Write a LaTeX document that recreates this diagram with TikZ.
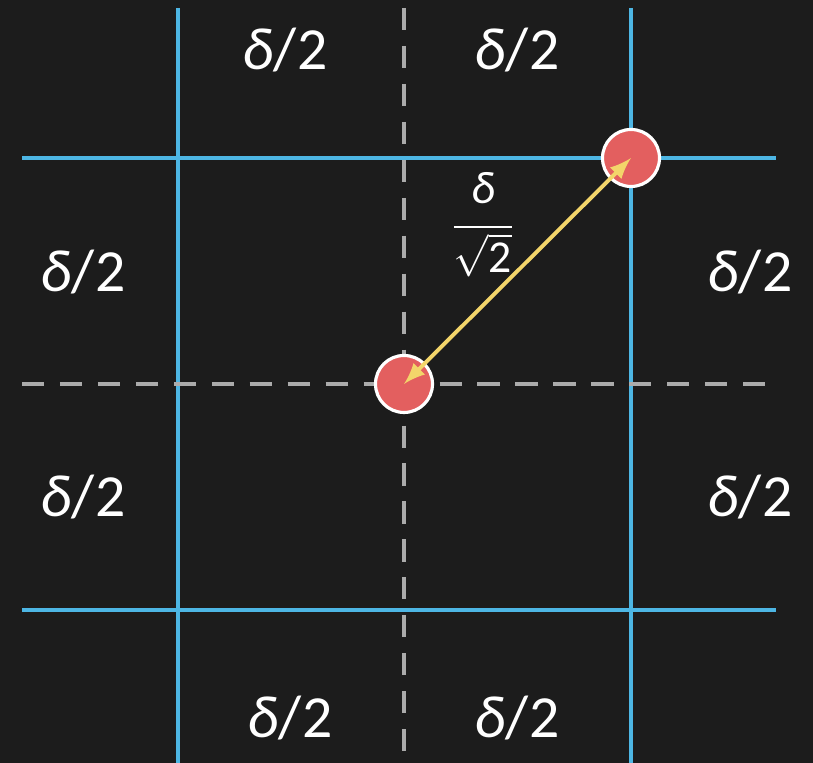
\documentclass[tikz,border=0pt]{standalone}
\usepackage{amsmath}
\usepackage{fontspec}
\setmainfont{Carlito}
\definecolor{board}{HTML}{1C1C1C}
\definecolor{gridblue}{HTML}{4DB6E4}
\definecolor{dashgray}{HTML}{ABABAB}
\definecolor{dotred}{HTML}{E35F5F}
\definecolor{rayyellow}{HTML}{F3D56A}
\tikzset{
  blueline/.style={gridblue,line width=1.15pt},
  grayline/.style={dashgray,line width=1.3pt,dash pattern=on6.3pt off4.5pt},
  dot/.style={circle,fill=dotred,draw=white,line width=0.9pt,minimum size=0.57cm,inner sep=0pt},
  half/.style={white,font=\fontsize{17}{20}\selectfont}
}
\newcommand{\halfd}{\textit{δ}/2}

\begin{document}
\begin{tikzpicture}
	% board
	\fill[board] (0,0) rectangle (8.13,7.63);
	\useasboundingbox (0,0) rectangle (8.13,7.63);
	% blue grid
	\draw[blueline] (1.78,7.55) -- (1.78,0);
	\draw[blueline] (6.31,7.55) -- (6.31,0);
	\draw[blueline] (0.22,6.05) -- (7.76,6.05);
	\draw[blueline] (0.22,1.53) -- (7.76,1.53);
	% dashed axes
	\draw[grayline] (4.04,7.55) -- (4.04,0);
	\draw[grayline] (0.22,3.79) -- (7.78,3.79);
	% points
	\node[dot] (lo) at (4.04,3.79) {};
	\node[dot] (hi) at (6.31,6.05) {};
	\draw[rayyellow,line width=1.1pt,latex-latex] (lo.center) -- (hi.center);
	\node[white,font=\fontsize{13}{15}\selectfont] (diag) at (4.83,5.38)
	  {$\dfrac{\raisebox{1.5pt}{\itshape δ}}{\sqrt{\text{2}}}$};
	% labels
	\node[half] (t1) at (2.85,7.13) {\halfd};
	\node[half] (t2) at (5.17,7.13) {\halfd};
	\node[half] (l1) at (0.83,4.91) {\halfd};
	\node[half] (r1) at (7.50,4.91) {\halfd};
	\node[half] (l2) at (0.83,2.66) {\halfd};
	\node[half] (r2) at (7.50,2.66) {\halfd};
	\node[half] (b1) at (2.90,0.45) {\halfd};
	\node[half] (b2) at (5.17,0.45) {\halfd};
\end{tikzpicture}
\end{document}
